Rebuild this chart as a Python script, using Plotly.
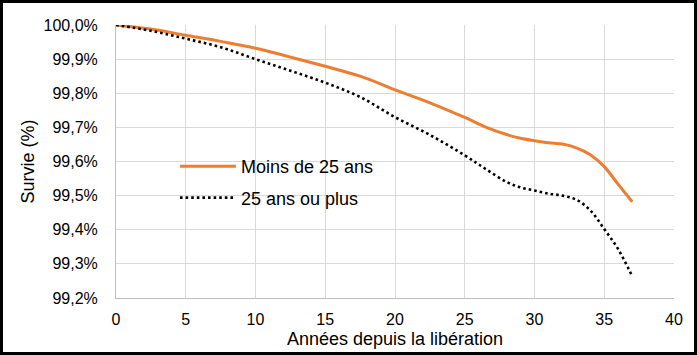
import plotly.graph_objects as go

years = [0, 2.5, 5, 7.5, 10, 12.5, 15, 17.5, 20, 22.5, 25, 26.5, 28,
         29, 30, 31, 32, 33, 34, 35, 36, 37]
moins_25 = [100.0, 99.988, 99.970, 99.952, 99.932, 99.906, 99.879, 99.850, 99.810, 99.772,
            99.729, 99.701, 99.679, 99.668, 99.661, 99.655, 99.651, 99.640, 99.620, 99.585,
            99.533, 99.482]
plus_25 = [100.0, 99.983, 99.960, 99.935, 99.900, 99.866, 99.831, 99.789, 99.730, 99.678,
           99.618, 99.578, 99.540, 99.524, 99.515, 99.506, 99.500, 99.488, 99.457, 99.402,
           99.343, 99.264]

y_ticks = [99.2, 99.3, 99.4, 99.5, 99.6, 99.7, 99.8, 99.9, 100.0]
y_labels = ["99,2%", "99,3%", "99,4%", "99,5%", "99,6%", "99,7%", "99,8%", "99,9%", "100,0%"]
x_ticks = [0, 5, 10, 15, 20, 25, 30, 35, 40]

W, H = 697, 355
L, R, T, B = 116, 23, 25, 57
pw, ph = W - L - R, H - T - B

fig = go.Figure()
fig.add_trace(go.Scatter(x=years, y=moins_25, mode="lines", name="Moins de 25 ans",
                         line=dict(color="#ED7D31", width=3, shape="spline", smoothing=1.0),
                         legendgroup="a", cliponaxis=False))
fig.add_trace(go.Scatter(x=years, y=plus_25, mode="lines", name="25 ans ou plus",
                         line=dict(color="#000000", width=2.6, shape="spline", smoothing=1.0,
                                   dash="2.6px,3px"),
                         legendgroup="b", cliponaxis=False))

fig.update_layout(
    width=W, height=H,
    margin=dict(l=L, r=R, t=T, b=B, autoexpand=False),
    paper_bgcolor="white", plot_bgcolor="white",
    font=dict(family="Liberation Sans, Arial, sans-serif", color="black", size=16),
    legend=dict(x=(175 - L) / pw, y=1 - (148 - T) / ph, xanchor="left", yanchor="top",
                bgcolor="rgba(0,0,0,0)", font=dict(size=18),
                traceorder="grouped", tracegroupgap=5, itemwidth=56),
    xaxis=dict(range=[0, 40], tickvals=x_ticks, ticks="", showgrid=True, automargin=False,
               gridcolor="#d9d9d9", gridwidth=1, showline=True, linecolor="#bfbfbf",
               linewidth=1, zeroline=False, ticklabelstandoff=7,
               title=dict(text="Années depuis la libération", font=dict(size=18), standoff=5)),
    yaxis=dict(range=[99.2, 100.0], tickvals=y_ticks, ticktext=y_labels, ticks="",
               showgrid=True, gridcolor="#d9d9d9", gridwidth=1, showline=True, automargin=False,
               linecolor="#bfbfbf", linewidth=1, zeroline=False, ticklabelstandoff=14,
               title=dict(text="Survie (%)", font=dict(size=18), standoff=4)),
    shapes=[dict(type="rect", xref="paper", yref="paper",
                 x0=(-L + 1.5) / pw, x1=(W - L - 1.5) / pw,
                 y0=(-B + 1.5) / ph, y1=(H - B - 1.5) / ph,
                 line=dict(color="black", width=3), fillcolor="rgba(0,0,0,0)", layer="above")],
)

fig.write_html("out.html")
